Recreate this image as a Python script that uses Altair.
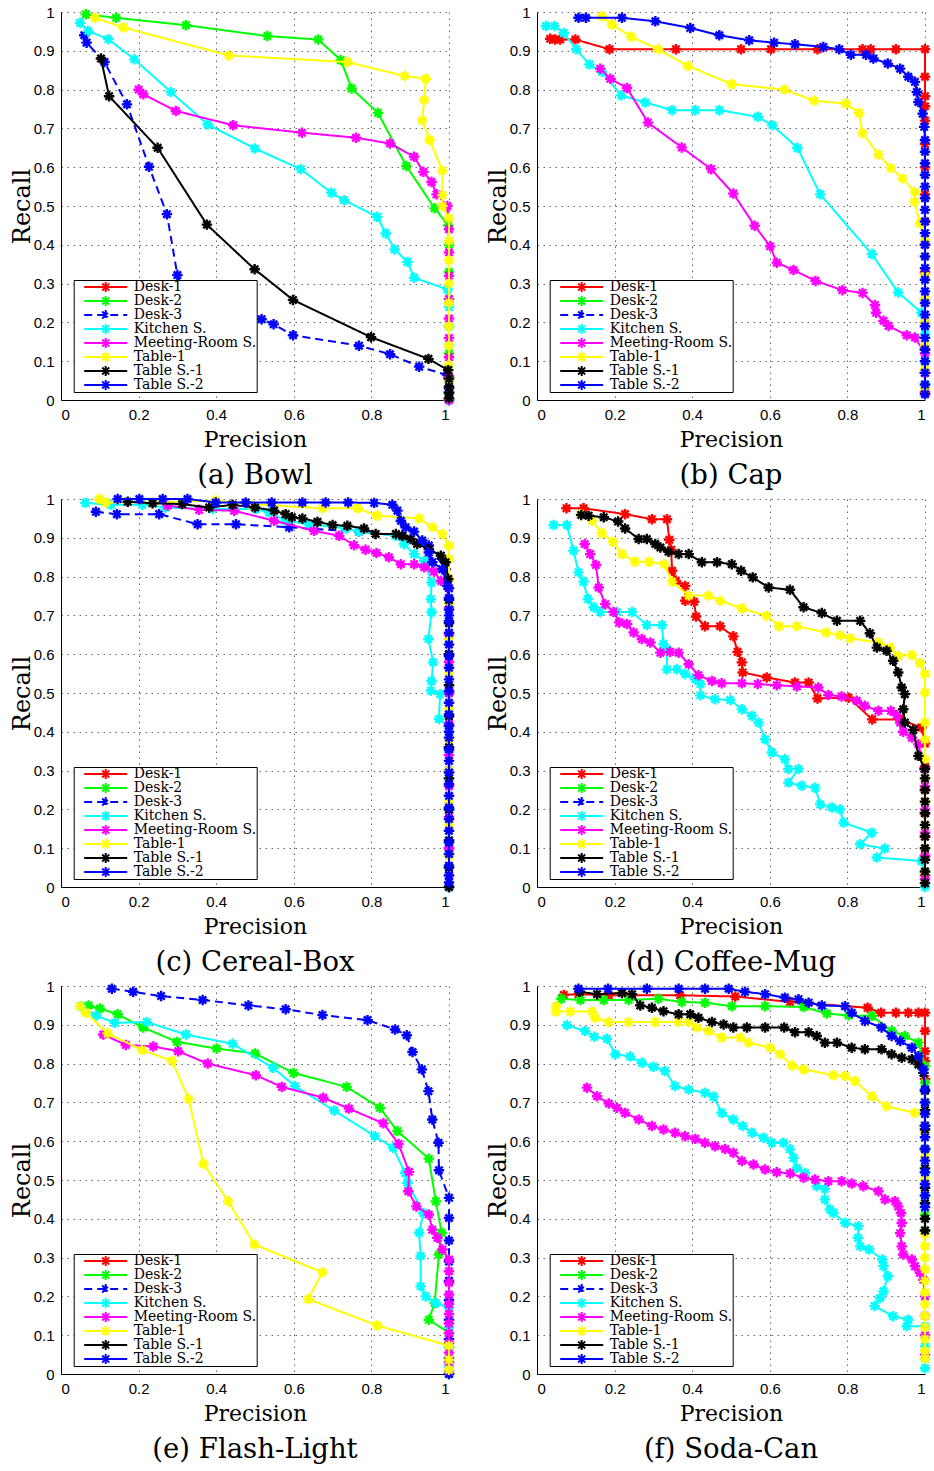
import altair as alt
import pandas as pd

SERIES = ["Desk-1", "Desk-2", "Desk-3", "Kitchen S.", "Meeting-Room S.",
          "Table-1", "Table S.-1", "Table S.-2"]
COLORS = ["#ff0000", "#00ff00", "#0000ff", "#00ffff", "#ff00ff",
          "#ffff00", "#000000", "#0000ff"]
DASHES = [[1, 0], [1, 0], [8, 5], [1, 0], [1, 0], [1, 0], [1, 0], [1, 0]]
X_TICKS = [0, 0.2, 0.4, 0.6, 0.8, 1]
Y_TICKS = [0, 0.1, 0.2, 0.3, 0.4, 0.5, 0.6, 0.7, 0.8, 0.9, 1]


def edge(*ys):
    return [(1.0, y) for y in ys]


# ---------------- (a) Bowl ----------------
A_DESK2 = [(0.064, 0.994), (0.142, 0.985), (0.322, 0.966), (0.532, 0.938), (0.663, 0.929),
           (0.721, 0.876), (0.749, 0.803), (0.817, 0.740), (0.890, 0.603), (0.963, 0.494),
           (0.998, 0.450)] + edge(0.40, 0.33, 0.26, 0.19, 0.12, 0.06, 0.02, 0.0)
A_DESK3 = [(0.060, 0.940), (0.066, 0.921), (0.112, 0.871), (0.170, 0.762), (0.227, 0.601),
           (0.273, 0.479), (0.300, 0.322), (0.33, 0.23), (0.517, 0.208), (0.548, 0.195),
           (0.598, 0.167), (0.768, 0.140), (0.848, 0.118), (0.923, 0.086),
           (0.996, 0.064)] + edge(0.03, 0.0)
A_KITCHEN = [(0.049, 0.972), (0.070, 0.951), (0.122, 0.930), (0.189, 0.878), (0.283, 0.794),
             (0.378, 0.710), (0.500, 0.648), (0.618, 0.595), (0.697, 0.534), (0.730, 0.515),
             (0.815, 0.472), (0.837, 0.429), (0.860, 0.388), (0.893, 0.356), (0.910, 0.315),
             (0.996, 0.285)] + edge(0.24, 0.19, 0.14, 0.09, 0.05, 0.02, 0.0)
A_MEETING = [(0.200, 0.800), (0.212, 0.788), (0.296, 0.745), (0.444, 0.708), (0.621, 0.689),
             (0.760, 0.676), (0.848, 0.661), (0.910, 0.627), (0.934, 0.588), (0.955, 0.562),
             (0.968, 0.530), (0.996, 0.500)] + edge(0.44, 0.38, 0.32, 0.26, 0.21, 0.16,
                                                    0.11, 0.06, 0.02, 0.0)
A_TABLE1 = [(0.088, 0.985), (0.161, 0.960), (0.433, 0.888), (0.738, 0.871), (0.886, 0.835),
            (0.940, 0.828), (0.936, 0.774), (0.931, 0.721), (0.950, 0.670), (0.983, 0.591),
            (0.983, 0.528), (0.983, 0.500), (1.0, 0.468)] + edge(0.41, 0.36, 0.30, 0.25,
                                                                 0.19, 0.14, 0.09, 0.05)
A_TABLES1 = [(0.103, 0.880), (0.124, 0.783), (0.249, 0.650), (0.376, 0.452), (0.499, 0.337),
             (0.598, 0.258), (0.799, 0.162), (0.947, 0.106), (0.998, 0.077)] + edge(
    0.055, 0.034, 0.018, 0.005)

# ---------------- (b) Cap ----------------
B_DESK1 = [(0.034, 0.931), (0.047, 0.929), (0.060, 0.929), (0.099, 0.929), (0.187, 0.904),
           (0.358, 0.904), (0.526, 0.904), (0.603, 0.904), (0.723, 0.904), (0.839, 0.904),
           (0.860, 0.904), (0.925, 0.904), (1.0, 0.904)] + edge(
    0.833, 0.783, 0.757, 0.72, 0.66, 0.60, 0.53, 0.46, 0.40, 0.33, 0.26, 0.20, 0.13, 0.07, 0.02)
B_KITCHEN = [(0.023, 0.964), (0.045, 0.964), (0.069, 0.946), (0.101, 0.904), (0.135, 0.865),
             (0.167, 0.846), (0.217, 0.785), (0.279, 0.767), (0.348, 0.747), (0.408, 0.747),
             (0.470, 0.747), (0.569, 0.730), (0.607, 0.708), (0.671, 0.650), (0.730, 0.530),
             (0.863, 0.376), (0.931, 0.277), (0.991, 0.225)] + edge(0.17, 0.10, 0.04)
B_MEETING = [(0.163, 0.854), (0.189, 0.828), (0.232, 0.804), (0.286, 0.715), (0.373, 0.651),
             (0.449, 0.595), (0.506, 0.532), (0.561, 0.449), (0.601, 0.396), (0.618, 0.354),
             (0.661, 0.335), (0.718, 0.307), (0.787, 0.283), (0.839, 0.276), (0.871, 0.245),
             (0.874, 0.225), (0.893, 0.204), (0.906, 0.191), (0.953, 0.167),
             (0.974, 0.161)] + edge(0.12, 0.07)
B_TABLE1 = [(0.167, 0.989), (0.193, 0.968), (0.243, 0.936), (0.312, 0.904), (0.389, 0.861),
            (0.502, 0.814), (0.638, 0.800), (0.714, 0.771), (0.796, 0.764), (0.830, 0.740),
            (0.839, 0.688), (0.880, 0.633), (0.912, 0.598), (0.942, 0.571), (0.974, 0.536),
            (0.973, 0.511), (0.987, 0.455), (1.0, 0.412)] + edge(0.37, 0.32, 0.26, 0.20,
                                                                 0.14, 0.08, 0.03)
B_TABLES2 = [(0.107, 0.985), (0.126, 0.985), (0.219, 0.985), (0.305, 0.976), (0.395, 0.959),
             (0.470, 0.940), (0.547, 0.927), (0.611, 0.921), (0.665, 0.917), (0.738, 0.910),
             (0.779, 0.904), (0.809, 0.890), (0.848, 0.890), (0.867, 0.880), (0.904, 0.867),
             (0.936, 0.854), (0.957, 0.833), (0.974, 0.820), (0.979, 0.794), (0.983, 0.768),
             (0.994, 0.738), (0.998, 0.704)] + edge(
    0.67, 0.64, 0.61, 0.58, 0.55, 0.52, 0.49, 0.46, 0.43, 0.40, 0.37, 0.34, 0.31, 0.28,
    0.25, 0.22, 0.19, 0.16, 0.13, 0.10, 0.07, 0.04, 0.015)

# ---------------- (c) Cereal-Box ----------------
C_DESK3 = [(0.090, 0.967), (0.144, 0.961), (0.253, 0.961), (0.352, 0.935), (0.451, 0.935),
           (0.588, 0.927), (0.768, 0.916), (0.880, 0.905), (0.948, 0.880),
           (0.991, 0.819)] + edge(0.77, 0.70, 0.60, 0.50, 0.40, 0.30, 0.20, 0.10, 0.0)
C_KITCHEN = [(0.063, 0.990), (0.129, 0.985), (0.209, 0.985), (0.270, 0.978), (0.391, 0.974),
             (0.502, 0.974), (0.536, 0.966), (0.579, 0.944), (0.639, 0.935), (0.734, 0.924),
             (0.768, 0.916), (0.863, 0.905), (0.884, 0.884), (0.910, 0.858), (0.936, 0.841),
             (0.955, 0.785), (0.953, 0.742), (0.955, 0.708), (0.947, 0.639), (0.959, 0.579),
             (0.955, 0.531), (0.953, 0.506), (0.977, 0.497), (0.974, 0.433),
             (1.0, 0.415)] + edge(0.35, 0.28, 0.20, 0.12, 0.05, 0.0)
C_MEETING = [(0.275, 0.983), (0.356, 0.972), (0.446, 0.970), (0.549, 0.944), (0.652, 0.918),
             (0.717, 0.905), (0.755, 0.881), (0.785, 0.869), (0.813, 0.861), (0.845, 0.850),
             (0.876, 0.832), (0.910, 0.832), (0.936, 0.824), (0.961, 0.813), (0.979, 0.789),
             (0.996, 0.776)] + edge(0.72, 0.65, 0.58, 0.50, 0.42, 0.34, 0.26, 0.18, 0.10, 0.03)
C_TABLE1 = [(0.099, 1.0), (0.116, 0.991), (0.236, 0.991), (0.399, 0.996), (0.485, 0.987),
            (0.674, 0.976), (0.764, 0.976), (0.815, 0.957), (0.923, 0.950), (0.957, 0.927),
            (0.983, 0.910), (1.0, 0.880), (1.0, 0.845), (1.0, 0.794)] + edge(
    0.73, 0.64, 0.55, 0.46, 0.38, 0.30, 0.22, 0.16, 0.08)
C_TABLES1 = [(0.172, 0.993), (0.236, 0.989), (0.312, 0.987), (0.382, 0.978), (0.442, 0.985),
             (0.500, 0.978), (0.549, 0.970), (0.579, 0.961), (0.595, 0.953), (0.622, 0.950),
             (0.661, 0.941), (0.700, 0.933), (0.738, 0.931), (0.781, 0.924), (0.811, 0.910),
             (0.863, 0.910), (0.880, 0.905), (0.901, 0.897), (0.918, 0.884), (0.948, 0.871),
             (0.979, 0.854), (0.991, 0.837), (0.998, 0.794)] + edge(
    0.74, 0.68, 0.60, 0.52, 0.44, 0.36, 0.28, 0.20, 0.12, 0.05, 0.0)
C_TABLES2 = [(0.146, 1.0), (0.202, 1.0), (0.262, 1.0), (0.326, 1.0), (0.399, 0.991),
             (0.476, 0.991), (0.543, 0.991), (0.622, 0.991), (0.682, 0.991), (0.740, 0.991),
             (0.807, 0.990), (0.854, 0.985), (0.867, 0.970), (0.876, 0.944), (0.888, 0.927),
             (0.910, 0.916), (0.931, 0.893), (0.948, 0.862), (0.957, 0.837), (0.983, 0.819),
             (0.996, 0.776)] + edge(
    0.745, 0.715, 0.685, 0.655, 0.625, 0.595, 0.565, 0.535, 0.505, 0.475, 0.445, 0.415,
    0.385, 0.355, 0.325, 0.295, 0.265, 0.235, 0.205, 0.175, 0.145, 0.115, 0.085, 0.055,
    0.03, 0.012)

# ---------------- (d) Coffee-Mug ----------------
D_DESK1 = [(0.076, 0.976), (0.120, 0.976), (0.227, 0.961), (0.296, 0.948), (0.335, 0.948),
           (0.341, 0.895), (0.346, 0.869), (0.348, 0.815), (0.358, 0.789), (0.382, 0.776),
           (0.382, 0.738), (0.405, 0.735), (0.410, 0.697), (0.433, 0.672), (0.472, 0.672),
           (0.506, 0.646), (0.517, 0.606), (0.528, 0.579), (0.530, 0.553), (0.592, 0.540),
           (0.665, 0.527), (0.700, 0.527), (0.723, 0.486), (0.803, 0.488), (0.864, 0.432),
           (0.936, 0.432), (0.991, 0.411)] + edge(0.37, 0.31, 0.25, 0.19, 0.13, 0.08, 0.03)
D_KITCHEN = [(0.043, 0.933), (0.077, 0.933), (0.094, 0.867), (0.107, 0.811), (0.120, 0.787),
             (0.131, 0.742), (0.146, 0.721), (0.163, 0.709), (0.206, 0.709), (0.245, 0.709),
             (0.283, 0.675), (0.322, 0.675), (0.326, 0.626), (0.335, 0.613), (0.335, 0.561),
             (0.361, 0.561), (0.382, 0.549), (0.408, 0.536), (0.421, 0.523), (0.421, 0.494),
             (0.459, 0.484), (0.498, 0.482), (0.528, 0.458), (0.554, 0.441), (0.571, 0.424),
             (0.588, 0.381), (0.605, 0.347), (0.639, 0.329), (0.648, 0.304), (0.674, 0.304),
             (0.648, 0.269), (0.682, 0.261), (0.717, 0.256), (0.730, 0.213), (0.760, 0.205),
             (0.781, 0.200), (0.790, 0.166), (0.863, 0.140), (0.833, 0.110), (0.897, 0.099),
             (0.876, 0.076), (0.991, 0.067)] + edge(0.04, 0.0)
D_MEETING = [(0.123, 0.884), (0.137, 0.858), (0.152, 0.830), (0.159, 0.772), (0.176, 0.729),
             (0.197, 0.709), (0.212, 0.682), (0.232, 0.678), (0.249, 0.656), (0.270, 0.639),
             (0.292, 0.630), (0.318, 0.604), (0.343, 0.606), (0.365, 0.604), (0.391, 0.574),
             (0.416, 0.546), (0.451, 0.531), (0.476, 0.525), (0.528, 0.525), (0.569, 0.523),
             (0.618, 0.520), (0.670, 0.517), (0.725, 0.514), (0.751, 0.495), (0.785, 0.491),
             (0.824, 0.480), (0.845, 0.467), (0.880, 0.454), (0.912, 0.454), (0.927, 0.443),
             (0.936, 0.424), (0.944, 0.400), (0.966, 0.385), (0.983, 0.368),
             (0.998, 0.304)] + edge(0.26, 0.20, 0.14, 0.08, 0.02)
D_TABLE1 = [(0.112, 0.961), (0.142, 0.944), (0.167, 0.912), (0.196, 0.890), (0.219, 0.858),
            (0.253, 0.838), (0.289, 0.838), (0.328, 0.832), (0.348, 0.787), (0.391, 0.751),
            (0.442, 0.751), (0.472, 0.738), (0.528, 0.718), (0.592, 0.699), (0.624, 0.672),
            (0.670, 0.672), (0.745, 0.656), (0.781, 0.649), (0.807, 0.641), (0.880, 0.630),
            (0.910, 0.617), (0.931, 0.596), (0.966, 0.598), (0.987, 0.577), (1.0, 0.549),
            (1.0, 0.501), (1.0, 0.424)] + edge(0.38, 0.33, 0.28, 0.22, 0.16, 0.10, 0.04)
D_TABLES1 = [(0.114, 0.959), (0.133, 0.957), (0.172, 0.953), (0.209, 0.942), (0.227, 0.924),
             (0.262, 0.897), (0.283, 0.897), (0.305, 0.884), (0.318, 0.875), (0.339, 0.864),
             (0.365, 0.858), (0.391, 0.858), (0.425, 0.837), (0.464, 0.837), (0.502, 0.832),
             (0.526, 0.815), (0.556, 0.798), (0.597, 0.772), (0.652, 0.766), (0.687, 0.721),
             (0.734, 0.706), (0.773, 0.686), (0.833, 0.686), (0.858, 0.654), (0.876, 0.617),
             (0.901, 0.609), (0.918, 0.583), (0.931, 0.553), (0.940, 0.514), (0.948, 0.497),
             (0.944, 0.458), (0.948, 0.424), (0.970, 0.405), (0.983, 0.338),
             (1.0, 0.304)] + edge(0.28, 0.25, 0.22, 0.19, 0.16, 0.13, 0.10, 0.07, 0.04, 0.01)

# ---------------- (e) Flash-Light ----------------
E_DESK2 = [(0.071, 0.950), (0.100, 0.942), (0.146, 0.927), (0.212, 0.893), (0.299, 0.856),
           (0.401, 0.839), (0.500, 0.826), (0.599, 0.776), (0.736, 0.740), (0.822, 0.686),
           (0.867, 0.626), (0.948, 0.555), (0.966, 0.445), (0.981, 0.364), (0.974, 0.308),
           (0.963, 0.183), (0.948, 0.140), (1.0, 0.106)] + edge(0.07, 0.03, 0.0)
E_DESK3 = [(0.131, 0.993), (0.186, 0.985), (0.258, 0.974), (0.365, 0.964), (0.483, 0.950),
           (0.579, 0.940), (0.674, 0.925), (0.790, 0.912), (0.861, 0.888), (0.891, 0.873),
           (0.906, 0.830), (0.930, 0.785), (0.947, 0.729), (0.957, 0.656), (0.973, 0.596),
           (0.974, 0.525), (1.0, 0.454), (1.0, 0.402), (1.0, 0.344)] + edge(
    0.29, 0.24, 0.19, 0.14, 0.09, 0.04, 0.0)
E_KITCHEN = [(0.052, 0.948), (0.090, 0.924), (0.139, 0.905), (0.221, 0.907), (0.322, 0.875),
             (0.442, 0.851), (0.547, 0.789), (0.603, 0.742), (0.704, 0.679), (0.809, 0.613),
             (0.856, 0.583), (0.887, 0.518), (0.893, 0.493), (0.934, 0.415), (0.923, 0.364),
             (0.927, 0.304), (0.927, 0.226), (0.940, 0.200), (0.966, 0.183),
             (1.0, 0.170)] + edge(0.12, 0.07, 0.02)
E_MEETING = [(0.109, 0.875), (0.167, 0.848), (0.238, 0.844), (0.302, 0.832), (0.378, 0.800),
             (0.502, 0.770), (0.569, 0.740), (0.676, 0.712), (0.742, 0.684), (0.831, 0.646),
             (0.870, 0.593), (0.897, 0.521), (0.895, 0.471), (0.916, 0.432), (0.948, 0.411),
             (0.957, 0.372), (0.970, 0.351), (0.983, 0.321), (1.0, 0.295)] + edge(
    0.265, 0.235, 0.205, 0.18, 0.155, 0.13, 0.105, 0.08, 0.055, 0.03, 0.01)
E_TABLE1 = [(0.049, 0.948), (0.064, 0.931), (0.120, 0.878), (0.209, 0.835), (0.286, 0.807),
            (0.329, 0.709), (0.367, 0.542), (0.431, 0.445), (0.498, 0.334), (0.674, 0.262),
            (0.637, 0.193), (0.815, 0.125), (1.0, 0.073)] + edge(0.037, 0.011)

# ---------------- (f) Soda-Can ----------------
F_DESK1 = [(0.069, 0.977), (0.107, 0.979), (0.185, 0.976), (0.369, 0.976), (0.511, 0.973),
           (0.652, 0.959), (0.852, 0.944), (0.887, 0.931), (0.925, 0.931), (0.957, 0.931),
           (0.983, 0.931), (1.0, 0.931), (1.0, 0.884), (1.0, 0.832), (1.0, 0.807)] + edge(
    0.76, 0.70, 0.64)
F_DESK2 = [(0.063, 0.967), (0.112, 0.964), (0.172, 0.964), (0.236, 0.964), (0.313, 0.967),
           (0.373, 0.959), (0.433, 0.957), (0.502, 0.948), (0.588, 0.948), (0.687, 0.946),
           (0.747, 0.929), (0.803, 0.924), (0.863, 0.923), (0.914, 0.884), (0.948, 0.871),
           (0.983, 0.854), (1.0, 0.794)] + edge(0.75, 0.70, 0.64, 0.58, 0.52, 0.46, 0.41, 0.37)
F_KITCHEN = [(0.077, 0.899), (0.124, 0.884), (0.148, 0.869), (0.180, 0.864), (0.202, 0.824),
             (0.240, 0.818), (0.270, 0.802), (0.300, 0.792), (0.330, 0.781), (0.356, 0.742),
             (0.391, 0.733), (0.433, 0.725), (0.455, 0.715), (0.476, 0.673), (0.506, 0.656),
             (0.530, 0.639), (0.554, 0.622), (0.584, 0.609), (0.605, 0.596), (0.635, 0.596),
             (0.652, 0.579), (0.661, 0.557), (0.670, 0.531), (0.691, 0.518), (0.721, 0.484),
             (0.742, 0.477), (0.742, 0.450), (0.755, 0.424), (0.764, 0.415), (0.794, 0.390),
             (0.828, 0.381), (0.827, 0.351), (0.833, 0.329), (0.856, 0.321), (0.890, 0.295),
             (0.893, 0.278), (0.904, 0.252), (0.893, 0.213), (0.884, 0.196), (0.870, 0.175),
             (0.918, 0.149), (0.957, 0.140), (0.953, 0.123), (1.0, 0.123)] + edge(
    0.071, 0.04, 0.015)
F_MEETING = [(0.129, 0.738), (0.155, 0.716), (0.185, 0.697), (0.206, 0.686), (0.227, 0.673),
             (0.262, 0.656), (0.296, 0.639), (0.326, 0.630), (0.356, 0.622), (0.382, 0.613),
             (0.408, 0.606), (0.433, 0.596), (0.459, 0.587), (0.485, 0.580), (0.506, 0.570),
             (0.528, 0.549), (0.558, 0.540), (0.588, 0.527), (0.618, 0.520), (0.652, 0.517),
             (0.687, 0.506), (0.717, 0.501), (0.751, 0.497), (0.785, 0.497), (0.811, 0.491),
             (0.841, 0.484), (0.880, 0.471), (0.897, 0.450), (0.923, 0.445), (0.931, 0.432),
             (0.938, 0.415), (0.940, 0.389), (0.936, 0.363), (0.940, 0.329), (0.944, 0.308),
             (0.966, 0.295), (0.974, 0.278), (0.987, 0.261), (0.996, 0.243)] + edge(
    0.20, 0.15, 0.10, 0.05)
F_TABLE1 = [(0.049, 0.948), (0.049, 0.934), (0.086, 0.934), (0.142, 0.934), (0.150, 0.918),
            (0.185, 0.907), (0.236, 0.907), (0.305, 0.907), (0.365, 0.907), (0.391, 0.907),
            (0.412, 0.893), (0.442, 0.884), (0.476, 0.867), (0.524, 0.867), (0.545, 0.854),
            (0.601, 0.841), (0.627, 0.824), (0.657, 0.795), (0.687, 0.785), (0.764, 0.770),
            (0.794, 0.768), (0.820, 0.755), (0.863, 0.716), (0.901, 0.690), (0.974, 0.673),
            (1.0, 0.673)] + edge(0.62, 0.56, 0.50, 0.44, 0.36, 0.33, 0.30, 0.27, 0.24, 0.21,
                                 0.18, 0.15, 0.12, 0.09, 0.06, 0.04)
F_TABLES1 = [(0.110, 0.985), (0.155, 0.979), (0.219, 0.982), (0.245, 0.979), (0.266, 0.950),
             (0.296, 0.944), (0.326, 0.935), (0.365, 0.927), (0.395, 0.927), (0.416, 0.918),
             (0.451, 0.907), (0.481, 0.901), (0.506, 0.893), (0.541, 0.893), (0.588, 0.893),
             (0.637, 0.893), (0.665, 0.881), (0.700, 0.881), (0.721, 0.871), (0.742, 0.854),
             (0.773, 0.854), (0.811, 0.841), (0.845, 0.837), (0.888, 0.837), (0.914, 0.824),
             (0.940, 0.815), (0.966, 0.811), (0.983, 0.798), (0.996, 0.776)] + edge(
    0.73, 0.68, 0.63, 0.58, 0.53, 0.48, 0.44, 0.40, 0.37)
F_TABLES2 = [(0.107, 0.993), (0.183, 0.993), (0.283, 0.993), (0.365, 0.993), (0.433, 0.993),
             (0.494, 0.993), (0.536, 0.985), (0.588, 0.979), (0.639, 0.970), (0.674, 0.966),
             (0.700, 0.957), (0.734, 0.950), (0.794, 0.948), (0.811, 0.931), (0.845, 0.910),
             (0.888, 0.893), (0.914, 0.871), (0.936, 0.858), (0.966, 0.841), (0.983, 0.819),
             (0.996, 0.785), (1.0, 0.733)] + edge(0.70, 0.67, 0.64, 0.61, 0.58, 0.55, 0.52,
                                                  0.49, 0.46, 0.43)

PANELS = [
    ("(a) Bowl", {"Desk-2": A_DESK2, "Desk-3": A_DESK3, "Kitchen S.": A_KITCHEN,
                  "Meeting-Room S.": A_MEETING, "Table-1": A_TABLE1, "Table S.-1": A_TABLES1}),
    ("(b) Cap", {"Desk-1": B_DESK1, "Kitchen S.": B_KITCHEN, "Meeting-Room S.": B_MEETING,
                 "Table-1": B_TABLE1, "Table S.-2": B_TABLES2}),
    ("(c) Cereal-Box", {"Desk-3": C_DESK3, "Kitchen S.": C_KITCHEN, "Meeting-Room S.": C_MEETING,
                        "Table-1": C_TABLE1, "Table S.-1": C_TABLES1, "Table S.-2": C_TABLES2}),
    ("(d) Coffee-Mug", {"Desk-1": D_DESK1, "Kitchen S.": D_KITCHEN, "Meeting-Room S.": D_MEETING,
                        "Table-1": D_TABLE1, "Table S.-1": D_TABLES1}),
    ("(e) Flash-Light", {"Desk-2": E_DESK2, "Desk-3": E_DESK3, "Kitchen S.": E_KITCHEN,
                         "Meeting-Room S.": E_MEETING, "Table-1": E_TABLE1}),
    ("(f) Soda-Can", {"Desk-1": F_DESK1, "Desk-2": F_DESK2, "Kitchen S.": F_KITCHEN,
                      "Meeting-Room S.": F_MEETING, "Table-1": F_TABLE1, "Table S.-1": F_TABLES1,
                      "Table S.-2": F_TABLES2}),
]

AST = "M-1,0L1,0M0,-1L0,1M-0.7,-0.7L0.7,0.7M-0.7,0.7L0.7,-0.7"
LEG = ("M-4.3,0L4.3,0M0,-1L0,1M-0.7,-0.7L0.7,0.7M-0.7,0.7L0.7,-0.7")
SERIF = "DejaVu Serif"
SANS = "Liberation Sans"

color_scale = alt.Scale(domain=SERIES, range=COLORS)
dash_scale = alt.Scale(domain=SERIES, range=DASHES)
LABEL_EXPR = "datum.value == 0 ? '0' : datum.value == 1 ? '1' : format(datum.value, '.1f')"


def make_panel(caption, data):
    rows = []
    for s in SERIES:
        for i, (px, ry) in enumerate(data.get(s, [])):
            rows.append({"series": s, "idx": i, "precision": px, "recall": ry})
    df = pd.DataFrame(rows)
    base = alt.Chart(df)
    xenc = alt.X("precision:Q", scale=alt.Scale(domain=[0, 1], nice=False),
                 axis=alt.Axis(values=X_TICKS, title="Precision", labelExpr=LABEL_EXPR))
    yenc = alt.Y("recall:Q", scale=alt.Scale(domain=[0, 1], nice=False),
                 axis=alt.Axis(values=Y_TICKS, title="Recall", labelExpr=LABEL_EXPR))
    legend = alt.Legend(title=None, orient="none", legendX=12.7, legendY=268,
                        direction="vertical", symbolType=LEG, symbolSize=100,
                        symbolStrokeWidth=2, symbolOffset=25, labelOffset=21,
                        labelFont=SERIF, labelFontSize=14, labelColor="black",
                        clipHeight=14, rowPadding=0, strokeColor="black",
                        fillColor="white", padding=0, labelLimit=0)
    layers = []
    for k, s in enumerate(SERIES):
        sub = base.transform_filter(alt.datum.series == s)
        line = sub.mark_line(strokeWidth=2, strokeJoin="round", clip=False).encode(
            x=xenc, y=yenc, order="idx:Q",
            color=alt.Color("series:N", scale=color_scale, legend=legend if k == 0 else None),
            strokeDash=alt.StrokeDash("series:N", scale=dash_scale,
                                      legend=legend if k == 0 else None),
        )
        pts = sub.mark_point(shape=AST, filled=False, size=110, strokeWidth=2.4,
                             strokeJoin="round", color=COLORS[k], opacity=1,
                             clip=False).encode(x=xenc, y=yenc)
        layers += [line, pts]
    return alt.layer(*layers).properties(
        width=388, height=388,
        title=alt.TitleParams(caption, orient="bottom", font=SERIF, fontSize=27.5,
                              fontWeight="normal", color="black", offset=12),
    )


panels = [make_panel(c, d) for c, d in PANELS]
chart = alt.concat(*panels, columns=2, spacing={"row": 99, "column": 88},
                   bounds="flush").resolve_legend(
    color="independent", strokeDash="independent"
).resolve_scale(color="independent", strokeDash="independent").properties(
    padding={"left": 10, "top": 5, "right": 0, "bottom": 0}
).configure_view(stroke=None).configure_axis(
    domainColor="black", domainWidth=1, ticks=False, labelPadding=7,
    labelFont=SANS, labelFontSize=15, labelColor="black",
    titleFont=SERIF, titleFontSize=22, titleFontWeight="normal", titleColor="black",
    grid=True, gridColor="#666666", gridDash=[1.5, 4.5], gridWidth=1,
).configure_axisY(titleFontSize=24, titlePadding=-1).configure_axisX(titlePadding=7)

chart.save("out.html", embed_options={"renderer": "svg", "actions": False})
